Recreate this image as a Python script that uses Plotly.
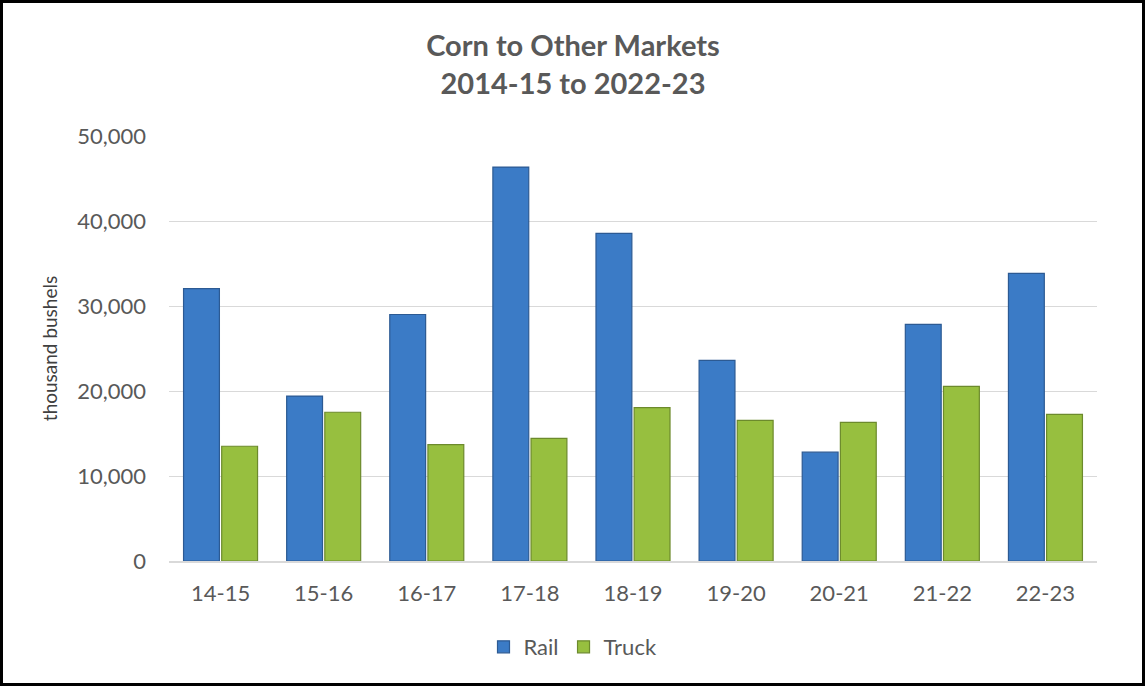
import plotly.graph_objects as go

categories = ["14-15", "15-16", "16-17", "17-18", "18-19", "19-20", "20-21", "21-22", "22-23"]
rail = [32050, 19400, 29000, 46350, 38550, 23600, 12800, 27850, 33850]
truck = [13500, 17500, 13700, 14430, 18050, 16550, 16300, 20550, 17250]
tick_vals = [0, 10000, 20000, 30000, 40000, 50000]
tick_text = ["0", "10,000", "20,000", "30,000", "40,000", "50,000"]

W, H = 1146, 687
L, R, T, B = 169, 49, 136, 126
pw, ph = W - L - R, H - T - B

fig = go.Figure()
fig.add_trace(go.Bar(
    name="Rail", x=categories, y=rail,
    marker=dict(color="#3B7BC6", line=dict(color="#2C5A93", width=1.2)),
))
fig.add_trace(go.Bar(
    name="Truck", x=categories, y=truck,
    marker=dict(color="#97BF3F", line=dict(color="#6C8A2C", width=1.2)),
))

font_family = "Lato, 'Open Sans', sans-serif"
fig.update_layout(
    width=W, height=H,
    margin=dict(l=L, r=R, t=T, b=B, autoexpand=False),
    paper_bgcolor="white", plot_bgcolor="white",
    barmode="group", bargap=0.26, bargroupgap=0.06,
    title=dict(
        text="<b>Corn to Other Markets<br>2014-15 to 2022-23</b>",
        x=0.5, xanchor="center", xref="container",
        y=1 - 56 / H, yanchor="middle", yref="container",
        font=dict(family=font_family, size=29, color="#595959"),
    ),
    showlegend=True,
    legend=dict(
        orientation="h", x=0.5, xanchor="center", xref="container",
        y=(561 - 647) / ph, yanchor="middle",
        font=dict(family=font_family, size=22, color="#595959"),
        itemwidth=30, traceorder="normal",
    ),
    font=dict(family=font_family, color="#595959"),
)
fig.update_xaxes(
    showgrid=False, showline=True, linecolor="#D9D9D9", linewidth=2,
    tickfont=dict(family=font_family, size=22, color="#595959"),
    ticks="", ticklabelstandoff=12,
)
fig.update_yaxes(
    range=[0, 50000], tickvals=tick_vals, ticktext=tick_text,
    showgrid=True, gridcolor="#D9D9D9", gridwidth=1.2,
    zeroline=False, showline=False,
    tickfont=dict(family=font_family, size=22, color="#595959"),
    ticks="", ticklabelstandoff=22,
    title=dict(text="thousand bushels", standoff=14,
               font=dict(family=font_family, size=19, color="#404040")),
)

# outer black frame
fig.add_shape(
    type="rect", xref="paper", yref="paper",
    x0=(1.5 - L) / pw, x1=(W - 2.5 - L) / pw,
    y0=(561 - (H - 2.5)) / ph, y1=(561 - 1.5) / ph,
    line=dict(color="black", width=3), fillcolor="rgba(0,0,0,0)",
    layer="above",
)

fig.write_html("out.html", config={"displayModeBar": False},
               post_script="document.body.style.margin='0';document.body.style.padding='0';document.body.style.overflow='hidden';")
